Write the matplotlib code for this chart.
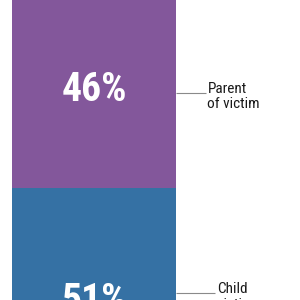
import matplotlib
matplotlib.use("Agg")
import matplotlib.pyplot as plt

# Data (stacked, bottom to top)
categories = ["Child\nvictim", "Parent\nof victim", "Other"]
values = [51, 46, 3]
labels = ["51%", "46%", "3%"]
colors = ["#3571A4", "#83579B", "#f2f2f2"]

fig = plt.figure(figsize=(3, 3), dpi=100)
ax = fig.add_axes([0, 0, 1, 1])
ax.set_xlim(-0.573, 1.256)
ax.set_ylim(23.9, 96.5)
ax.axis("off")

fam = ["Roboto Condensed", "DejaVu Sans"]

bottom = 0
label_shift = [-5.5, 2.0, 0]  # points, vertical shift of the big labels
line_ends = [0.74, 0.68, 0.68]
for i, (cat, v, lab, c) in enumerate(zip(categories, values, labels, colors)):
    if i < 2:
        ax.bar(0, v, width=1.0, bottom=bottom, color=c, edgecolor="none")
        mid = bottom + v / 2
        ax.annotate(lab, xy=(0, mid), xytext=(0, label_shift[i]),
                    textcoords="offset points", ha="center", va="center",
                    color="white", fontsize=28.5, fontweight="bold",
                    family=fam, fontstretch="condensed")
        ax.plot([0.5, line_ends[i]], [mid, mid], color="#8a8a8a", lw=0.8,
                solid_capstyle="butt")
        first, second = cat.split("\n")
        ax.annotate(first, xy=(line_ends[i] + 0.012, mid), ha="left",
                    va="baseline", fontsize=11, color="#1a1a1a", family=fam,
                    fontstretch="condensed")
        ax.annotate(second, xy=(line_ends[i] + 0.012, mid), xytext=(0, -11),
                    textcoords="offset points", ha="left", va="baseline",
                    fontsize=11, color="#1a1a1a", family=fam,
                    fontstretch="condensed")
    bottom += v

fig.savefig("out.png", dpi=100, facecolor="white")
